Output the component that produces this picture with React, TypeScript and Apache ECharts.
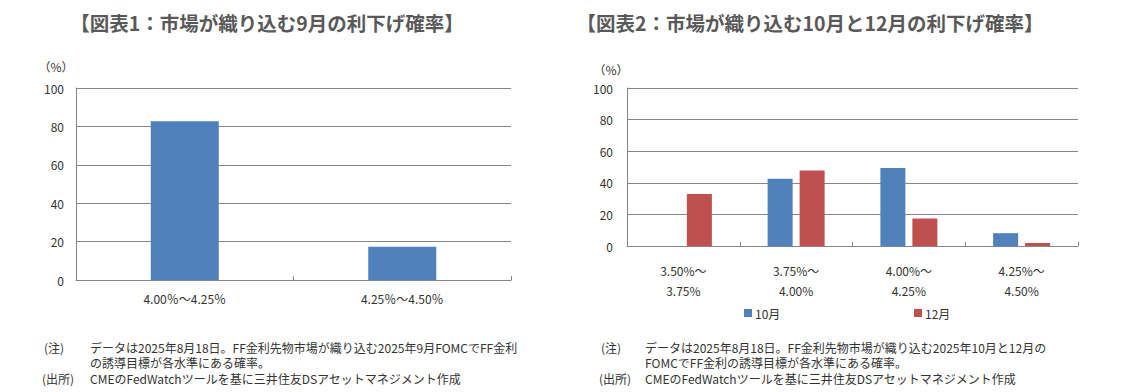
import React, { useEffect, useRef } from "react";
import * as echarts from "echarts";

const cats1 = ["4.00％～4.25％", "4.25％～4.50％"];
const sep1 = [82.7, 17.3];

const cats2 = ["3.50%～\n3.75%", "3.75%～\n4.00%", "4.00%～\n4.25%", "4.25%～\n4.50%"];
const oct = [0, 42.6, 49.3, 8.1];
const dec = [32.9, 47.8, 17.4, 1.9];

const title1 = "【図表1：市場が織り込む9月の利下げ確率】";
const title2 = "【図表2：市場が織り込む10月と12月の利下げ確率】";
const note1a = "データは2025年8月18日。FF金利先物市場が織り込む2025年9月FOMCでFF金利";
const note1b = "の誘導目標が各水準にある確率。";
const note2a = "データは2025年8月18日。FF金利先物市場が織り込む2025年10月と12月の";
const note2b = "FOMCでFF金利の誘導目標が各水準にある確率。";
const source = "CMEのFedWatchツールを基に三井住友DSアセットマネジメント作成";

const FONT = "'Noto Sans CJK JP', 'Noto Sans', sans-serif";
const GRID_C = "#868686";
const TXT = "#333333";
const BLUE = "#4F81BD";
const RED = "#C0504D";

export default function App() {
  const ref = useRef<HTMLDivElement>(null);
  useEffect(() => {
    document.body.style.margin = "0";
    const chart = echarts.init(ref.current!, null, { renderer: "svg" });
    const yAxisBase = (gi: number, margin: number) => ({
      type: "value",
      gridIndex: gi,
      min: 0,
      max: 100,
      interval: 20,
      axisLine: { show: true, lineStyle: { color: GRID_C } },
      axisTick: { show: false },
      splitLine: { lineStyle: { color: GRID_C, width: 1 } },
      axisLabel: { color: TXT, fontSize: 12, fontFamily: FONT, margin },
    });
    const txt = (x: number, y: number, text: string, extra: any = {}) => ({
      type: "text",
      x,
      y,
      style: {
        text,
        fill: TXT,
        font: `12px ${FONT}`,
        textVerticalAlign: "middle",
        ...extra,
      },
    });
    const legendBase = {
      icon: "rect",
      itemWidth: 8,
      itemHeight: 8,
      itemGap: 4,
      top: 302,
      textStyle: { color: TXT, fontSize: 12, fontFamily: FONT, padding: [0, 0, 0, -2] },
    };
    chart.setOption({
      animation: false,
      textStyle: { fontFamily: FONT },
      grid: [
        { left: 76, right: 614, top: 88, bottom: 112 },
        { left: 627, right: 47, top: 88, bottom: 146 },
      ],
      xAxis: [
        {
          type: "category",
          gridIndex: 0,
          data: cats1,
          axisLine: { lineStyle: { color: GRID_C } },
          axisTick: { show: true, inside: true, length: 4, lineStyle: { color: GRID_C } },
          axisLabel: { color: TXT, fontSize: 12, fontFamily: FONT, margin: 12 },
        },
        {
          type: "category",
          gridIndex: 1,
          data: cats2,
          axisLine: { lineStyle: { color: GRID_C } },
          axisTick: { show: true, inside: true, length: 4, lineStyle: { color: GRID_C } },
          axisLabel: { color: TXT, fontSize: 12, fontFamily: FONT, margin: 14, lineHeight: 20 },
        },
      ],
      yAxis: [yAxisBase(0, 12), yAxisBase(1, 14)],
      legend: [
        { ...legendBase, data: ["10月"], left: 739 },
        { ...legendBase, data: ["12月"], left: 909 },
      ],
      series: [
        {
          name: "9月",
          type: "bar",
          xAxisIndex: 0,
          yAxisIndex: 0,
          data: sep1,
          barWidth: 68,
          itemStyle: { color: BLUE },
        },
        {
          name: "10月",
          type: "bar",
          xAxisIndex: 1,
          yAxisIndex: 1,
          data: oct,
          barWidth: 25,
          barGap: "28%",
          itemStyle: { color: BLUE },
        },
        {
          name: "12月",
          type: "bar",
          xAxisIndex: 1,
          yAxisIndex: 1,
          data: dec,
          barWidth: 25,
          barGap: "28%",
          itemStyle: { color: RED },
        },
      ],
      graphic: [
        {
          type: "text",
          x: 267,
          y: 22,
          style: {
            text: title1,
            fill: "#595959",
            font: `bold 19.5px ${FONT}`,
            textAlign: "center",
            textVerticalAlign: "middle",
          },
        },
        {
          type: "text",
          x: 810,
          y: 22,
          style: {
            text: title2,
            fill: "#595959",
            font: `bold 19.5px ${FONT}`,
            textAlign: "center",
            textVerticalAlign: "middle",
          },
        },
        txt(56, 66, "（%）", { textAlign: "center" }),
        txt(611, 69, "（%）", { textAlign: "center" }),
        txt(44, 347, "(注)"),
        txt(90, 347, note1a),
        txt(90, 362, note1b),
        txt(42, 378, "(出所)"),
        txt(90, 378, source),
        txt(601, 347, "(注)"),
        txt(645, 347, note2a),
        txt(645, 362, note2b),
        txt(599, 378, "(出所)"),
        txt(645, 378, source),
      ],
    });
    return () => chart.dispose();
  }, []);
  return (
    <div
      ref={ref}
      style={{ position: "fixed", left: 0, top: 0, width: 1125, height: 392, background: "#fff" }}
    />
  );
}
